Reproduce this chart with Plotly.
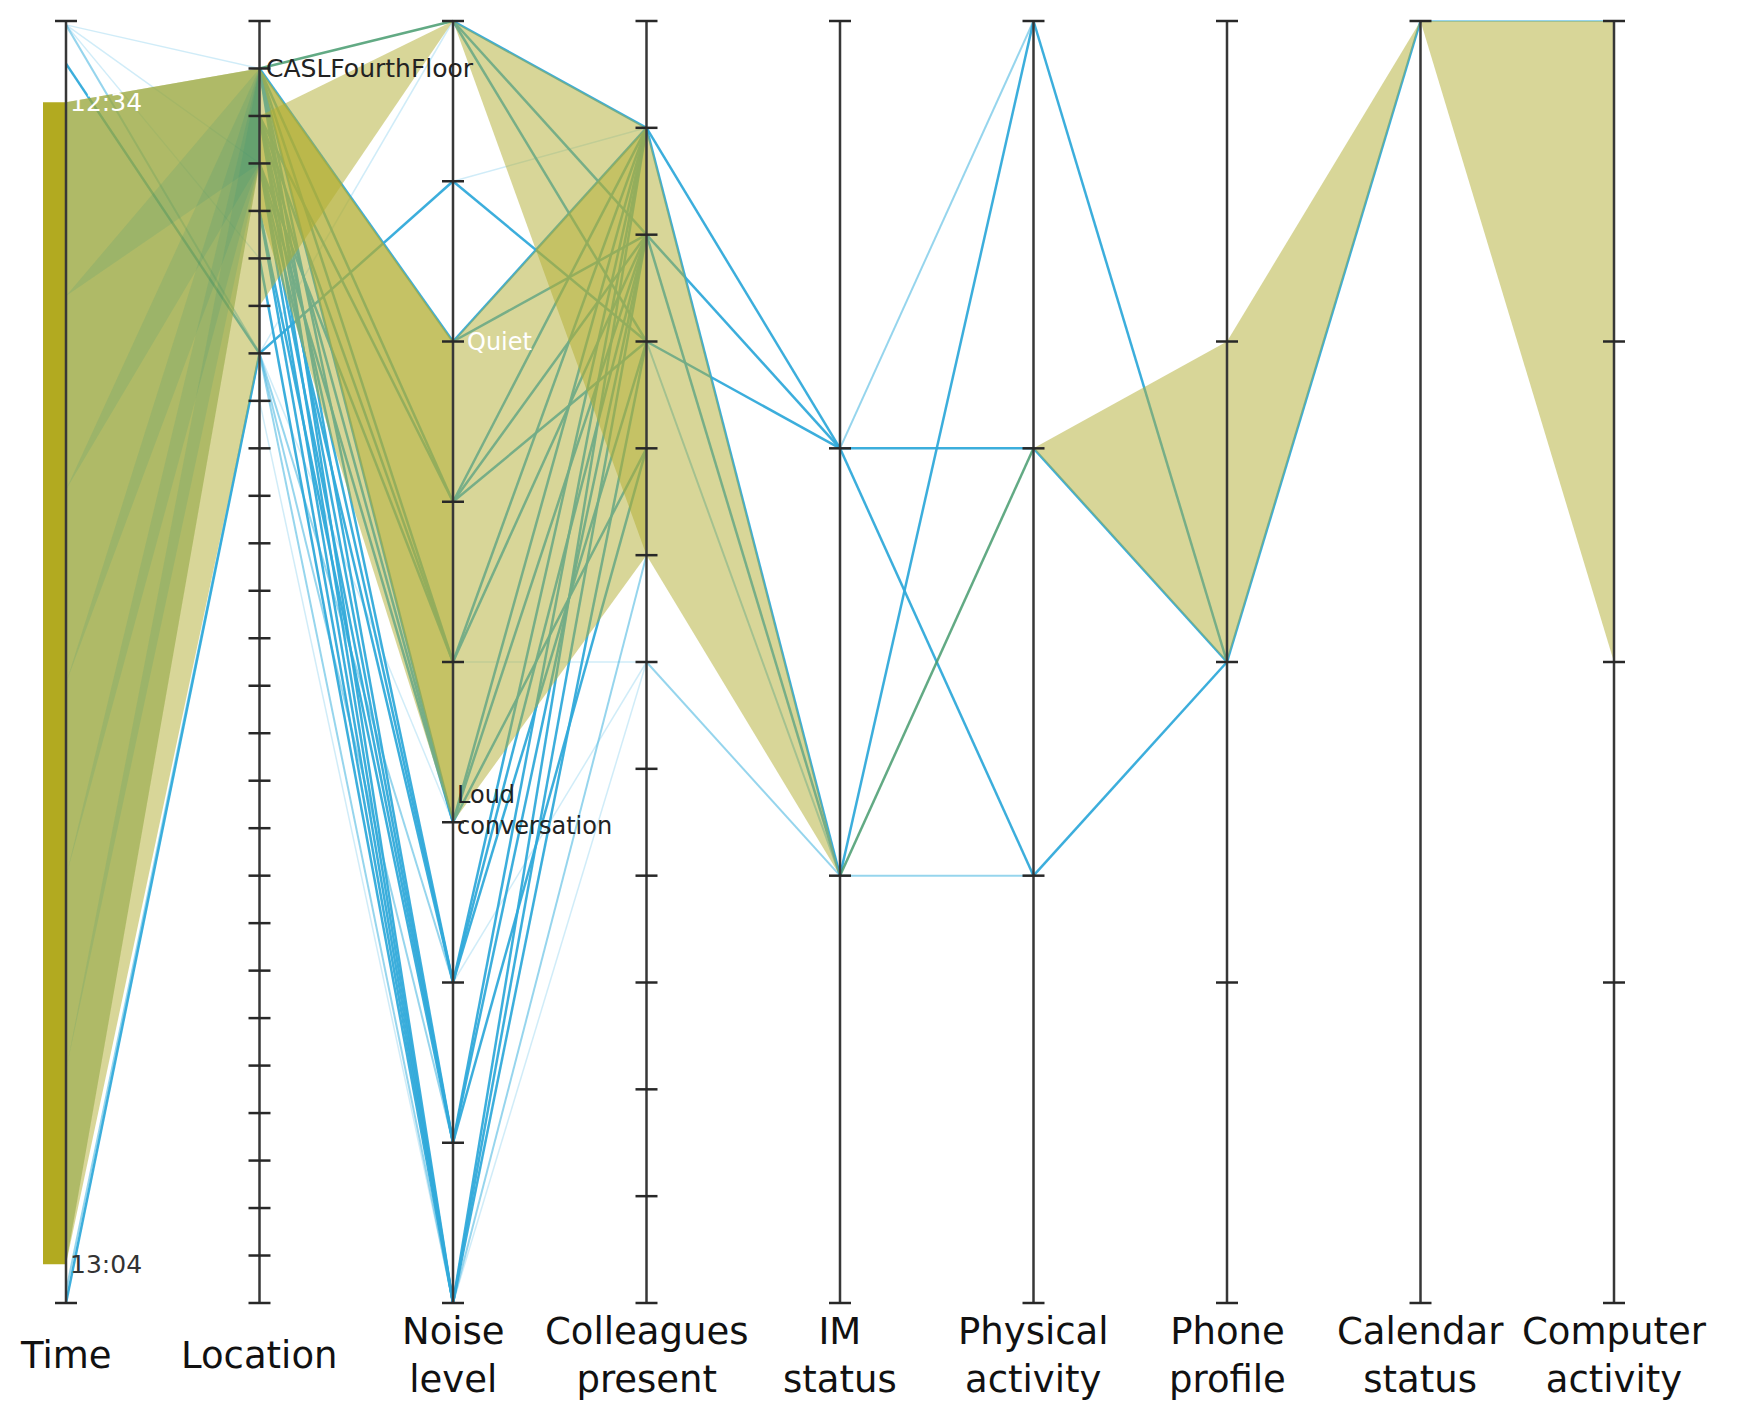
import plotly.graph_objects as go

# ---------------- data ----------------
axis_titles = ["Time", "Location", "Noise<br>level", "Colleagues<br>present", "IM<br>status",
               "Physical<br>activity", "Phone<br>profile", "Calendar<br>status", "Computer<br>activity"]
axis_levels = [None, 28, 9, 13, 4, 4, 5, 2, 5]      # category count per axis (Time is continuous)
time_axis_minutes = [31.9, 65.0]                     # minutes after 12:00 at top / bottom of Time axis
time_window = [34, 64]                               # selected window 12:34 .. 13:04
time_labels = {34: "12:34", 64: "13:04"}
location_labels = {1: "CASLFourthFloor"}
noise_labels = {2: "Quiet", 5: "Loud<br>conversation"}

# records between adjacent axes: (value on left axis, value on right axis, style)
links_time_location = [(32.0, 1, "f"), (32.0, 3, "f"), (32.0, 5, "f"), (32.0, 7, "l"),
                       (33.0, 7, "b"), (65.0, 7, "b"), (64.7, 7, "l")]
links_location_noise = [(1, 0, "g"), (1, 2, "b"), (1, 3, "b"), (1, 4, "b"), (1, 5, "b"),
                        (2, 3, "b"), (2, 4, "b"), (2, 5, "b"), (3, 4, "b"), (3, 5, "b"),
                        (1, 6, "b"), (1, 7, "b"), (1, 8, "b"), (2, 6, "b"), (2, 7, "b"), (2, 8, "b"),
                        (3, 6, "b"), (3, 7, "b"), (3, 8, "b"), (4, 7, "b"), (4, 8, "b"), (5, 8, "b"),
                        (7, 1, "b"), (7, 0, "f"), (7, 5, "f"), (7, 6, "l"), (7, 7, "l"), (7, 8, "l"),
                        (8, 8, "f")]
links_noise_colleagues = [(0, 1, "b"), (0, 2, "b"), (0, 3, "b"),
                          (1, 1, "f"), (1, 3, "b"),
                          (2, 1, "b"), (2, 2, "b"),
                          (3, 1, "b"), (3, 2, "b"), (3, 3, "b"),
                          (4, 1, "b"), (4, 2, "b"), (4, 6, "f"),
                          (5, 1, "b"), (5, 2, "b"), (5, 4, "b"),
                          (6, 1, "b"), (6, 2, "b"), (6, 3, "b"), (6, 6, "f"),
                          (7, 1, "b"), (7, 2, "b"), (7, 4, "b"),
                          (8, 1, "b"), (8, 2, "b"), (8, 3, "b"), (8, 5, "l"), (8, 6, "f")]
links_colleagues_im = [(1, 1, "b"), (1, 2, "b"), (2, 1, "b"), (2, 2, "b"), (3, 1, "b"),
                       (3, 2, "l"), (6, 2, "l")]
links_im_physical = [(1, 0, "l"), (1, 1, "b"), (1, 2, "b"), (2, 0, "b"), (2, 1, "g"), (2, 2, "l")]
links_physical_phone = [(0, 2, "b"), (1, 2, "b"), (2, 2, "b")]
links_phone_calendar = [(2, 0, "b")]
links_calendar_computer = [(0, 0, "l")]

# highlighted bands between adjacent axes: ((left lo, left hi), (right lo, right hi))
bands_time_location = [((34, 64), (1, 7)), ((34, 64), (1, 3))]
bands_location_noise = [((2, 6), (0, 0)), ((1, 4), (2, 5)), ((1, 1), (2, 5))]
bands_noise_colleagues = [((0, 0), (1, 5)), ((2, 5), (1, 5))]
bands_colleagues_im = [((1, 5), (2, 2))]
bands_im_physical = []
bands_physical_phone = [((1, 1), (1, 2))]
bands_phone_calendar = [((1, 2), (0, 0))]
bands_calendar_computer = [((0, 0), (0, 2))]

# consecutive time slices whose records all flow into CASLFourthFloor (Location 1..3)
casl_slice_edges = [34, 39, 44, 49, 54, 59, 64]
casl_target = (1, 3)

# ---------------- helpers ----------------
def yv(ax, val):
    if ax == 0:
        t0, t1 = time_axis_minutes
        return 1 - (val - t0) / (t1 - t0)
    return 1 - val / (axis_levels[ax] - 1)

gap_links = [links_time_location, links_location_noise, links_noise_colleagues, links_colleagues_im,
             links_im_physical, links_physical_phone, links_phone_calendar, links_calendar_computer]
gap_bands = [bands_time_location, bands_location_noise, bands_noise_colleagues, bands_colleagues_im,
             bands_im_physical, bands_physical_phone, bands_phone_calendar, bands_calendar_computer]

styles = {
    "f": dict(color="rgba(120,200,235,0.35)", width=1.5),
    "l": dict(color="rgba(80,185,225,0.6)", width=2),
    "b": dict(color="rgba(50,170,218,0.95)", width=2.5),
    "g": dict(color="rgba(70,155,110,0.85)", width=2.5),
}

PX_PER_UNIT = 193.5
fig = go.Figure()

# lines (records)
for st in ["f", "l", "b", "g"]:
    xs, ys = [], []
    for g, links in enumerate(gap_links):
        for a, b, s in links:
            if s != st:
                continue
            xs += [g, g + 1, None]
            ys += [yv(g, a), yv(g + 1, b), None]
    fig.add_trace(go.Scatter(x=xs, y=ys, mode="lines", line=styles[st], hoverinfo="skip"))

# olive bands
OLIVE = "rgba(177,173,49,0.5)"
for g, bands in enumerate(gap_bands):
    for (a0, a1), (b0, b1) in bands:
        fig.add_trace(go.Scatter(
            x=[g, g, g + 1, g + 1, g], y=[yv(g, a0), yv(g, a1), yv(g + 1, b1), yv(g + 1, b0), yv(g, a0)],
            fill="toself", fillcolor=OLIVE, mode="lines", line=dict(width=0), hoverinfo="skip"))

# green flows converging on CASLFourthFloor
for t0, t1 in zip(casl_slice_edges[:-1], casl_slice_edges[1:]):
    fig.add_trace(go.Scatter(
        x=[0, 0, 1, 1, 0], y=[yv(0, t0), yv(0, t1), yv(1, casl_target[1]), yv(1, casl_target[0]), yv(0, t0)],
        fill="toself", fillcolor="rgba(30,140,120,0.13)", mode="lines", line=dict(width=0),
        hoverinfo="skip"))

# time selection bar
bw = 23 / PX_PER_UNIT
fig.add_trace(go.Scatter(
    x=[-bw, 0, 0, -bw, -bw], y=[yv(0, time_window[0]), yv(0, time_window[0]), yv(0, time_window[1]),
                              yv(0, time_window[1]), yv(0, time_window[0])],
    fill="toself", fillcolor="rgb(178,170,32)", mode="lines", line=dict(width=0), hoverinfo="skip"))

# axes and ticks
ax_x, ax_y, tk_x, tk_y = [], [], [], []
hw = 11 / PX_PER_UNIT
for i, n in enumerate(axis_levels):
    ax_x += [i, i, None]
    ax_y += [0, 1, None]
    if n is None:
        vals = [yv(0, time_axis_minutes[0]), yv(0, time_axis_minutes[1])]
    else:
        vals = [yv(i, k) for k in range(n)]
    for v in vals:
        tk_x += [i - hw, i + hw, None]
        tk_y += [v, v, None]
fig.add_trace(go.Scatter(x=ax_x, y=ax_y, mode="lines", line=dict(color="rgb(55,55,55)", width=2.5),
                         hoverinfo="skip"))
fig.add_trace(go.Scatter(x=tk_x, y=tk_y, mode="lines", line=dict(color="rgb(40,40,40)", width=2.5),
                         hoverinfo="skip"))

# annotations
FONT = "DejaVu Sans"
for i, t in enumerate(axis_titles):
    fig.add_annotation(x=i, y=0, yshift=-52, text=t, showarrow=False, yanchor="middle",
                       font=dict(family=FONT, size=37, color="#111"))
for t, lab in time_labels.items():
    fig.add_annotation(x=0, y=yv(0, t), xshift=2, text=lab, showarrow=False, xanchor="left",
                       yanchor="middle", font=dict(family=FONT, size=25,
                                                   color="white" if t == 34 else "#333"))
for k, lab in location_labels.items():
    fig.add_annotation(x=1, y=yv(1, k), xshift=4, text=lab, showarrow=False, xanchor="left",
                       yanchor="middle", font=dict(family=FONT, size=25, color="#222"))
for k, lab in noise_labels.items():
    fig.add_annotation(x=2, y=yv(2, k), xshift=12 if k == 2 else 2, yshift=0 if k == 2 else 12,
                       text=lab, showarrow=False, xanchor="left", yanchor="middle", align="left",
                       font=dict(family=FONT, size=24, color="white" if k == 2 else "#222"))

x0 = -58 / PX_PER_UNIT
x1 = (1745 - 58) / PX_PER_UNIT
fig.update_layout(
    width=1745, height=1408, margin=dict(l=0, r=0, t=0, b=0),
    paper_bgcolor="white", plot_bgcolor="white", showlegend=False,
    xaxis=dict(visible=False, range=[x0, x1]),
    yaxis=dict(visible=False, range=[(1295 - 1408) / 1282, 1295 / 1282]),
)
fig.write_html("out.html")
